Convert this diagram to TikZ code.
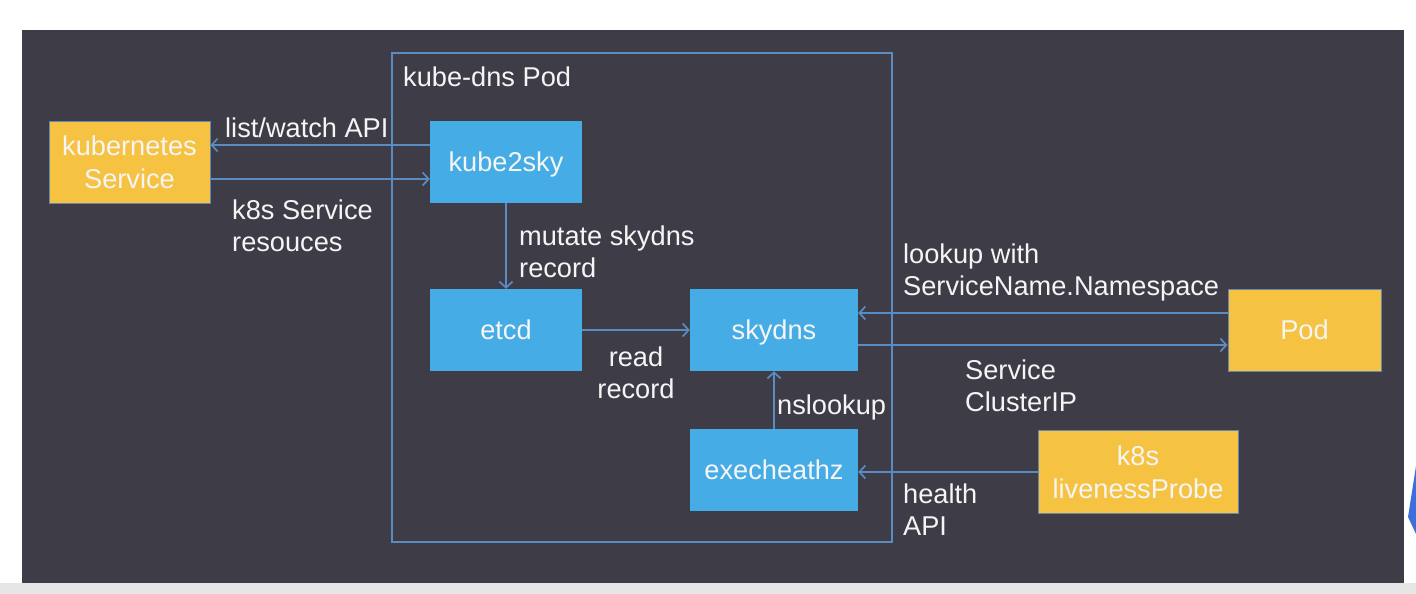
\documentclass[tikz,border=0pt]{standalone}
\usepackage{fontspec}
\setmainfont{Liberation Sans}
\usetikzlibrary{arrows.meta}
\definecolor{slide}{HTML}{3E3C46}
\definecolor{orng}{HTML}{F5C242}
\definecolor{blu}{HTML}{46ACE6}
\definecolor{ln}{HTML}{5A8CC2}
\definecolor{txt}{HTML}{F5F5F5}
\definecolor{strip}{HTML}{E6E6E6}
\definecolor{logo}{HTML}{3C6EDC}
\begin{document}
\begin{tikzpicture}[x=1pt,y=-1pt,
 box/.style={minimum height=82pt, inner sep=0pt, align=center, text depth=0pt, text=txt, font=\fontsize{27.2}{33}\selectfont},
 bbox/.style={box, fill=blu},
 obox/.style={box, fill=orng, draw=ln!70!gray, line width=1pt},
 lbl/.style={anchor=north west, inner sep=0pt, align=left, text=txt, font=\fontsize{27.2}{32}\selectfont},
 conn/.style={draw=ln, line width=1.7pt, -{Straight Barb[length=6pt,width=13pt,line width=1.7pt]}}
]
\useasboundingbox (0,0) rectangle (1416,594);
\fill[white] (0,0) rectangle (1416,594);
\fill[slide] (22,30) rectangle (1404,583);
\fill[strip] (0,583) rectangle (1416,594);
\fill[logo] (1416,466) -- (1408,517) -- (1416,534) -- cycle;

% pod frame
\draw[ln, line width=1.5pt] (392,53) rectangle (892,542);
\node[lbl] (title) at (403,67) {kube-dns Pod};

% boxes
\node[obox, minimum width=161pt] (ks) at (129.5,162) {kubernetes\\Service};
\node[bbox, minimum width=152pt] (k2s) at (506,162) {kube2sky};
\node[bbox, minimum width=152pt] (etcd) at (506,330) {etcd};
\node[bbox, minimum width=168pt] (sky) at (774,330) {skydns};
\node[bbox, minimum width=168pt] (exe) at (774,470) {execheathz};
\node[obox, minimum width=153pt] (pod) at (1304.5,330) {Pod};
\node[obox, minimum width=200pt, minimum height=83pt] (live) at (1138,472) {k8s\\livenessProbe};

% connectors
\draw[conn] ([yshift=17pt]k2s.west) -- ([yshift=17pt]ks.east);
\draw[conn] ([yshift=-17pt]ks.east) -- ([yshift=-17pt]k2s.west);
\draw[conn] (k2s.south) -- (etcd.north);
\draw[conn] (etcd.east) -- (sky.west);
\draw[conn] ([yshift=17pt]pod.west) -- ([yshift=17pt]sky.east);
\draw[conn] ([yshift=-15pt]sky.east) -- ([yshift=-15pt]pod.west);
\draw[conn] (exe.north) -- (sky.south);
\draw[conn] (live.west) -- (exe.east |- live.west);

% labels
\node[lbl] (l1) at (225,118) {list/watch API};
\node[lbl] (l2) at (232,200) {k8s Service\\resouces};
\node[lbl] (l3) at (519,226) {mutate skydns\\record};
\node[lbl, anchor=north, align=center] (l4) at (636,347) {read\\record};
\node[lbl] (l5) at (903,244) {lookup with\\ServiceName.Namespace};
\node[lbl] (l6) at (965,360) {Service\\ClusterIP};
\node[lbl] (l7) at (777,395) {nslookup};
\node[lbl] (l8) at (903,484) {health\\API};
\end{tikzpicture}
\end{document}
